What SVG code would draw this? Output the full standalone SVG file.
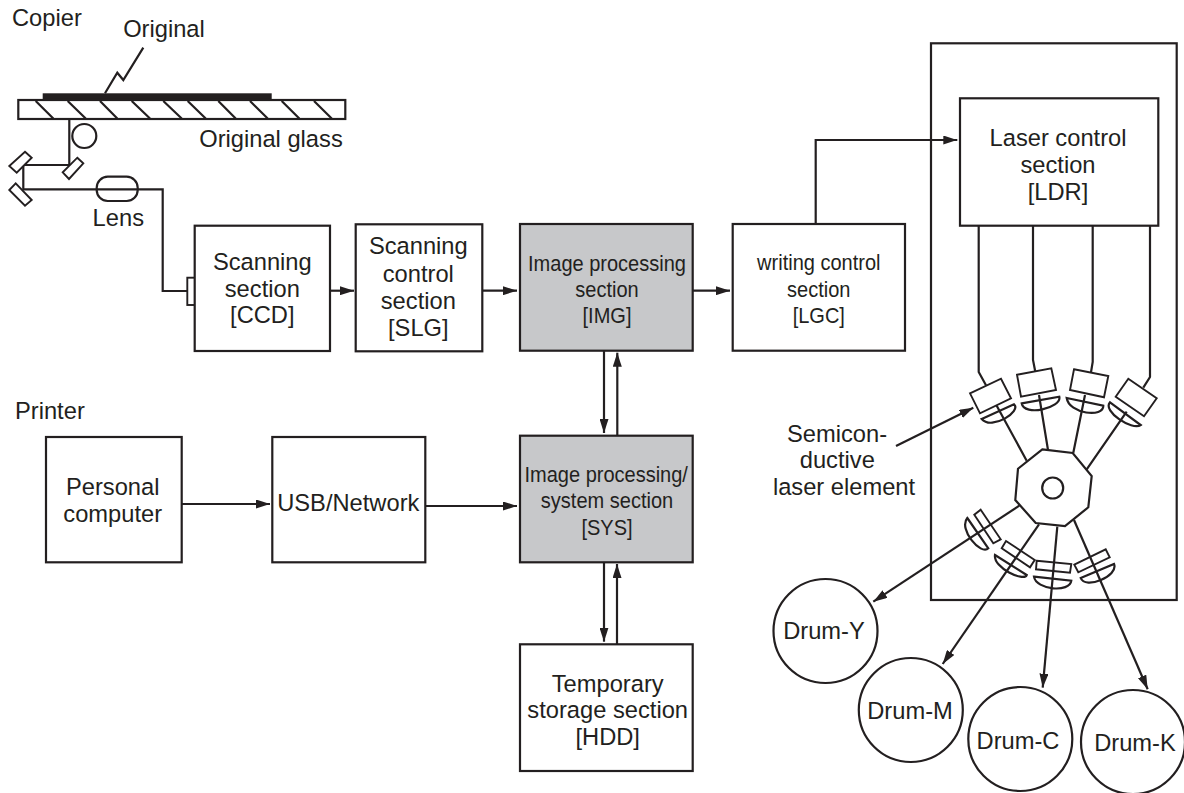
<svg xmlns="http://www.w3.org/2000/svg" width="1184" height="793" viewBox="0 0 1184 793">
<style>
text{font-family:"Liberation Sans",Arial,sans-serif;font-size:23.7px;fill:#231f20;text-anchor:middle}
.s{font-size:22px}
.l{text-anchor:start}
.b{fill:#fff;stroke:#231f20;stroke-width:2.2}
.g{fill:#c7c8ca;stroke:#231f20;stroke-width:2.2}
.n{fill:none;stroke:#231f20;stroke-width:2.2}
.w{fill:#fff;stroke:#231f20;stroke-width:1.9}
.a{fill:none;stroke:#231f20;stroke-width:2.2;marker-end:url(#ah)}
</style>
<defs><marker id="ah" markerUnits="userSpaceOnUse" markerWidth="14" markerHeight="9" refX="14" refY="4.500" orient="auto"><path d="M0 0L14 4.500L0 9z" fill="#231f20"/></marker></defs>
<rect width="1184" height="793" fill="#fff"/>
<g id="scanner">
<text class="l" x="12" y="25.700">Copier</text>
<text x="164" y="36.700">Original</text>
<path class="n" d="M143.300 47.700L123.300 80L117.300 72.700L105 93.300"/>
<rect x="42.700" y="93.300" width="229" height="6.700" fill="#231f20"/>
<rect class="b" x="18.300" y="100" width="327" height="19"/>
<path class="n" d="M35.700 101L53.300 118.500M67.700 101L85.700 118.500M100 101L117.300 118.500M131.700 101L150 118.500M163.300 101L181.700 118.500M187.700 101L205.700 118.500M218.300 101L235.700 118.500M250 101L267.700 118.500M281.700 101L299.300 118.500M314 101L331.700 118.500"/>
<path class="n" d="M69.300 119V165H23.300V189.300H162.700V291H187.300"/>
<circle class="n" cx="84.300" cy="136" r="12"/>
<path class="w" d="M25 151.700L31.700 157.700L16.700 172.700L9.300 166zM77.300 157.700L83.300 163.300L69 179L62.700 172.300zM15.700 183.300L31.700 200L25 205.700L9.300 190z"/>
<rect class="n" x="96.700" y="176.700" width="41" height="24.300" rx="11"/>
<text x="118.300" y="225.700">Lens</text>
<text x="271" y="146.700">Original glass</text>
<rect class="w" x="187.300" y="277.700" width="7.700" height="27.300"/>
</g>
<g id="ccd"><rect class="b" x="194.700" y="225.700" width="135.300" height="125.300"/><text x="262.300" y="270">Scanning</text><text x="262.300" y="297.300">section</text><text x="262.300" y="323.300">[CCD]</text></g>
<g id="slg"><rect class="b" x="355.700" y="224.300" width="126.600" height="127"/><text x="418.300" y="254.300">Scanning</text><text x="418.300" y="281.700">control</text><text x="418.300" y="309">section</text><text x="418.300" y="336">[SLG]</text></g>
<g id="img"><rect class="g" x="520" y="224" width="172.700" height="126.700"/><text class="s" transform="translate(607 270.500) scale(.91 1)">Image processing</text><text class="s" transform="translate(607 296.700) scale(.91 1)">section</text><text class="s" transform="translate(607 323) scale(.91 1)">[IMG]</text></g>
<g id="lgc"><rect class="b" x="732.700" y="224" width="172.300" height="126.700"/><text class="s" transform="translate(818.800 270) scale(.91 1)">writing control</text><text class="s" transform="translate(818.800 296.700) scale(.91 1)">section</text><text class="s" transform="translate(818.800 323) scale(.91 1)">[LGC]</text></g>
<text class="l" x="15" y="419">Printer</text>
<g id="pc"><rect class="b" x="46" y="437" width="135.700" height="125.300"/><text x="112.700" y="495">Personal</text><text x="112.700" y="521.700">computer</text></g>
<g id="usb"><rect class="b" x="272.300" y="437" width="153" height="125.300"/><text x="348.300" y="510.700">USB/Network</text></g>
<g id="sys"><rect class="g" x="520" y="435.700" width="172.700" height="126.600"/><text class="s" transform="translate(606.200 481.700) scale(.91 1)">Image processing/</text><text class="s" transform="translate(607 508) scale(.91 1)">system section</text><text class="s" transform="translate(607 535) scale(.91 1)">[SYS]</text></g>
<g id="hdd"><rect class="b" x="520" y="644.300" width="172.700" height="126.700"/><text x="607.700" y="691.700">Temporary</text><text x="607.700" y="718">storage section</text><text x="607.700" y="745">[HDD]</text></g>
<g id="unit">
<rect class="n" x="931" y="43.300" width="245.700" height="556.700"/>
<g id="ldr"><rect class="b" x="960" y="98.300" width="198.300" height="127.400"/><text x="1058" y="146">Laser control</text><text x="1058" y="172.700">section</text><text x="1058" y="200">[LDR]</text></g>
<path class="n" d="M978.700 225.700V372L986 385.300M1033 225.700V360L1035.300 371.700M1092.700 225.700V362L1091 372.300M1150 225.700V377L1143.300 387.700"/>
<path class="n" d="M996.700 405.700L1026.700 460.700M1039 395L1048 450M1085 395L1073.300 452.700M1126.700 411.700L1086.700 469.300"/>
<path class="w" d="M970 393.300L1001 378.700L1011 398.300L980 413.300zM1017 374.700L1051.300 368.300L1056 390L1021 396.700zM1074 369.300L1108.300 376L1104 397.300L1070 390zM1128.300 378.700L1156.700 398.300L1144 416.300L1115.700 396.700z"/>
<path class="n" d="M981.700 419L1014 404.300C1022 411 992 431 981.700 419zM1021.700 403.300L1059.300 396.700C1062 408 1024 417 1021.700 403.300zM1066.700 398L1103.300 405.700C1104 418 1069 414 1066.700 398zM1110 402.300L1140.700 425C1132 431 1102 411 1110 402.300z"/>
<path class="b" d="M1042.300 449.300L1072.700 453L1091.700 476L1088.300 507.300L1065 526L1035.700 523L1015.300 500L1018 468.700z"/>
<circle class="n" cx="1052.700" cy="488" r="10.500"/>
<path class="w" d="M980.700 509.700L1000.700 539.300L993.300 543.300L974.300 514.700zM1006 541L1034.700 560L1030 567.300L1001.700 548.300zM1036.700 560.700L1071.300 564L1070 572.700L1036 569.300zM1074.300 564.700L1105.700 549.300L1109.700 557.300L1078.300 572.300z"/>
<path class="n" d="M967.300 518L988.300 548.300C981 556 958 529 967.300 518zM995 555L1026.700 575C1024 582 993 568 995 555zM1034 576.700L1071.300 580.700C1070 593 1036 590 1034 576.700zM1080.700 578L1114 564C1119 576 1085 590 1080.700 578z"/>
</g>
<g id="laser-label"><text x="837" y="441.700">Semicon-</text><text x="837.300" y="468">ductive</text><text x="844" y="495">laser element</text></g>
<g id="drumy"><circle class="b" cx="825.500" cy="631" r="52"/><text x="824" y="639">Drum-Y</text></g>
<g id="drumm"><circle class="b" cx="910.800" cy="710" r="52"/><text x="910" y="719">Drum-M</text></g>
<g id="drumc"><circle class="b" cx="1020.300" cy="739" r="52"/><text x="1018" y="749">Drum-C</text></g>
<g id="drumk"><circle class="b" cx="1133" cy="742" r="52"/><text x="1135" y="751">Drum-K</text></g>
<g id="connectors">
<path class="a" d="M330 290.700H354"/>
<path class="a" d="M482.300 290.700H517"/>
<path class="a" d="M692.700 290.700H730"/>
<path class="a" d="M815.700 224V140H957.300"/>
<path class="a" d="M604 350.700V433"/>
<path class="a" d="M617.300 435.700V352.700"/>
<path class="a" d="M181.700 504H270"/>
<path class="a" d="M425.300 506H517"/>
<path class="a" d="M604 562.300V641.700"/>
<path class="a" d="M617 644.300V564"/>
<path class="a" d="M896 446L973.300 407.700"/>
<path class="a" d="M1019.300 505.700L873.300 601.700"/>
<path class="a" d="M1039 524.300L942.700 664"/>
<path class="a" d="M1057.300 526.700L1042.700 687.700"/>
<path class="a" d="M1074 520L1147.700 689.300"/>
</g>
</svg>
